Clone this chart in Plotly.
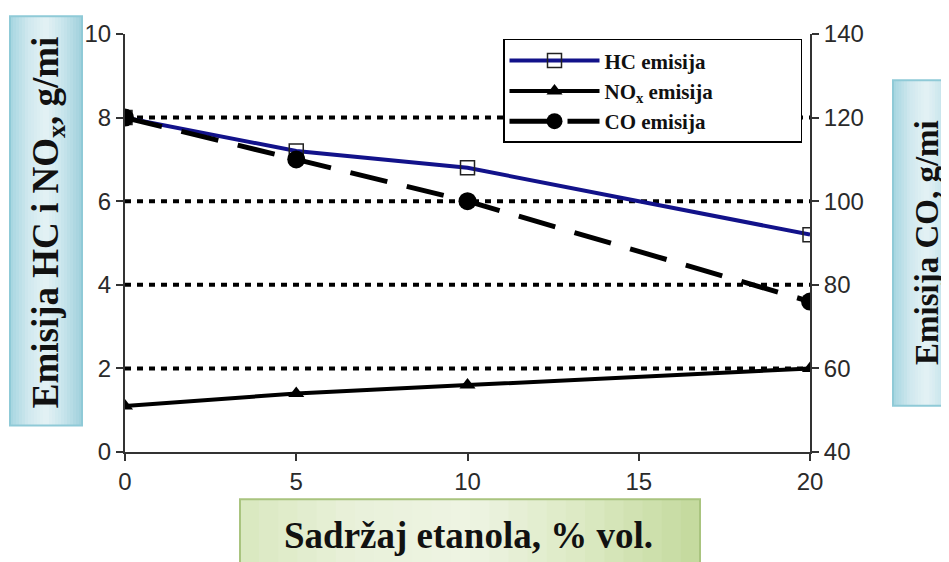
import plotly.graph_objects as go

# ---- data ----
ethanol = [0, 5, 10, 20]
hc = [8.0, 7.2, 6.8, 5.2]
nox = [1.1, 1.4, 1.6, 2.0]
co = [120, 110, 100, 76]
grid_vals = [2, 4, 6, 8]
x_ticks = [0, 5, 10, 15, 20]
y1_ticks = [0, 2, 4, 6, 8, 10]
y2_ticks = [40, 60, 80, 100, 120, 140]

OFF = 8  # page body margin
W, H = 949 - OFF, 562 - OFF
# plot area in screen pixels: x 125..810, y 28..452
L, T = 125 - OFF, 28 - OFF
R = W - (810 - OFF)
B = H - (452 - OFF)
PW, PH = W - L - R, H - T - B


def px(x):
    return (x - OFF - L) / PW


def py(y):
    return (H - B - (y - OFF)) / PH


def lerp_hex(c1, c2, t):
    a = [int(c1[i:i + 2], 16) for i in (1, 3, 5)]
    b = [int(c2[i:i + 2], 16) for i in (1, 3, 5)]
    return "#" + "".join(f"{round(a[k] + (b[k] - a[k]) * t):02x}" for k in range(3))


def gradient_box(x0, x1, y0, y1, stops, border, n=24):
    out = []
    for i in range(n):
        t = (i + 0.5) / n
        seg = min(int(t * (len(stops) - 1)), len(stops) - 2)
        tt = t * (len(stops) - 1) - seg
        col = lerp_hex(stops[seg], stops[seg + 1], tt)
        xa = x0 + (x1 - x0) * i / n
        xb = x0 + (x1 - x0) * (i + 1) / n + 0.6
        out.append(dict(type="rect", xref="paper", yref="paper", x0=px(xa), x1=px(xb),
                        y0=py(y1), y1=py(y0), fillcolor=col, line=dict(width=0), layer="below"))
    out.append(dict(type="rect", xref="paper", yref="paper", x0=px(x0), x1=px(x1),
                    y0=py(y1), y1=py(y0), fillcolor="rgba(0,0,0,0)",
                    line=dict(color=border, width=2), layer="below"))
    return out


fig = go.Figure()
fig.add_trace(go.Scatter(
    x=ethanol, y=hc, name="HC emisija", mode="lines+markers",
    line=dict(color="#12128a", width=4),
    marker=dict(symbol="square-open", size=14, color="#222", line=dict(width=1.5, color="#222")),
))
fig.add_trace(go.Scatter(
    x=ethanol, y=nox, name="NO<sub>x</sub> emisija", mode="lines+markers",
    line=dict(color="black", width=4),
    marker=dict(symbol="triangle-up", size=14, color="black"),
))
fig.add_trace(go.Scatter(
    x=ethanol, y=co, name="CO emisija" + "\u00a0" * 17,
    mode="lines+markers", yaxis="y2",
    line=dict(color="black", width=5, dash="38px,20px"),
    marker=dict(symbol="circle", size=18, color="black"),
))

shapes = []
for g in grid_vals:
    shapes.append(dict(type="line", xref="paper", yref="y", x0=0, x1=1, y0=g, y1=g,
                       line=dict(color="black", width=4, dash="6px,6px"), layer="below"))

blue_stops = ["#a5d5e0", "#cfe8ee", "#e4f2f5", "#c6e4eb", "#9fd0dc"]
green_stops = ["#d9e8bf", "#e9f1da", "#eef4e3", "#dbe9c2", "#c3d99c"]
shapes += gradient_box(10, 82, 10, 425, blue_stops, "#8fcad7")
shapes += gradient_box(893, 960, 75, 405, blue_stops, "#8fcad7")
shapes += gradient_box(240, 700, 500, 570, green_stops, "#a9c47f")

serif = "Liberation Serif, Times New Roman, serif"
annotations = [
    dict(text="<b>Emisija HC i NO<sub>x</sub>, g/mi</b>", xref="paper", yref="paper",
         x=px(48), y=py(219), textangle=-90, showarrow=False,
         font=dict(family=serif, size=37, color="#111"),
         xanchor="center", yanchor="middle"),
    dict(text="<b>Emisija CO, g/mi</b>", xref="paper", yref="paper",
         x=px(927), y=py(240), textangle=-90, showarrow=False,
         font=dict(family=serif, size=33, color="#111"),
         xanchor="center", yanchor="middle"),
    dict(text="<b>Sadržaj etanola, % vol.</b>", xref="paper", yref="paper",
         x=px(468), y=py(537), showarrow=False,
         font=dict(family=serif, size=37, color="#111"),
         xanchor="center", yanchor="middle"),
]

tick_font = dict(family="Liberation Sans, Arial, sans-serif", size=24, color="#2a2a2a")
axis_common = dict(showgrid=False, zeroline=False, showline=True, linecolor="#333",
                   linewidth=2, ticks="outside", ticklen=7, tickcolor="#333", tickwidth=2,
                   tickfont=tick_font)
fig.update_layout(
    width=W, height=H,
    margin=dict(l=L, r=R, t=T, b=B),
    paper_bgcolor="white", plot_bgcolor="white",
    showlegend=True,
    legend=dict(x=px(503), y=py(33), xanchor="left", yanchor="top",
                bordercolor="black", borderwidth=1.5, bgcolor="white",
                font=dict(family=serif, size=21, color="#111", weight="bold"),
                itemwidth=90, tracegroupgap=0),
    xaxis=dict(range=[0, 20], tickvals=x_ticks, **axis_common),
    yaxis=dict(range=[0, 10], tickvals=y1_ticks, **axis_common),
    yaxis2=dict(range=[40, 140], tickvals=y2_ticks, overlaying="y", side="right",
                **axis_common),
    shapes=shapes,
    annotations=annotations,
)
fig.write_html("out.html")
